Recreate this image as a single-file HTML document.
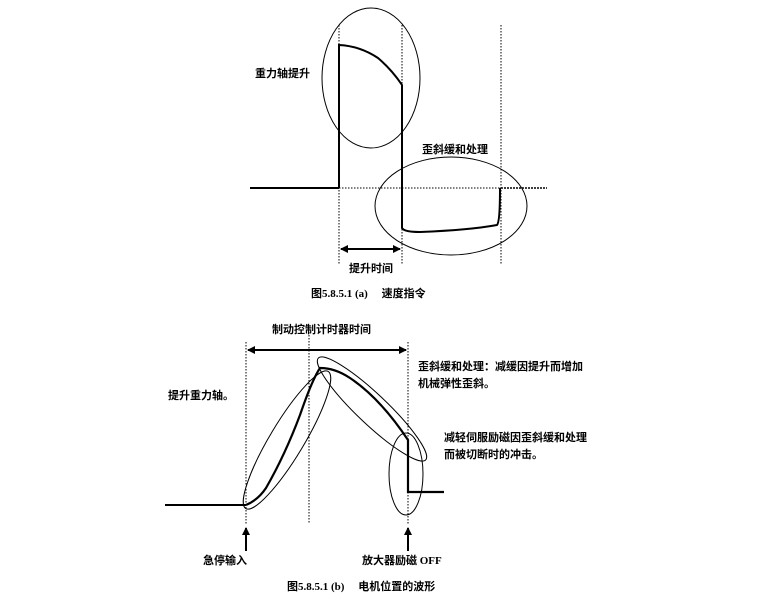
<!DOCTYPE html>
<html><head><meta charset="utf-8"><style>
html,body{margin:0;padding:0;background:#fff;}
svg{display:block}
text{font-family:"Liberation Serif","Noto Sans CJK SC",serif;font-weight:bold;font-size:11px;fill:#000}
.c{font-family:"Liberation Sans","Noto Sans CJK SC",sans-serif;}
</style></head><body>
<svg width="761" height="606" viewBox="0 0 761 606" xmlns="http://www.w3.org/2000/svg">
<defs>
<marker id="ah" markerWidth="8" markerHeight="8" refX="7" refY="4" orient="auto" markerUnits="userSpaceOnUse"><path d="M0,0 L8,4 L0,8 z" fill="#000"/></marker>
<marker id="ahs" markerWidth="8" markerHeight="8" refX="1" refY="4" orient="auto" markerUnits="userSpaceOnUse"><path d="M8,0 L0,4 L8,8 z" fill="#000"/></marker>
</defs>
<g stroke="#000" fill="none">
<g stroke-dasharray="1.5,1.5" stroke-width="1">
<line x1="339" y1="25" x2="339" y2="265"/>
<line x1="402" y1="25" x2="402" y2="265"/>
<line x1="501" y1="25" x2="501" y2="265"/>
<line x1="339" y1="188" x2="501" y2="188"/>
</g>
<line x1="501" y1="188" x2="547" y2="188" stroke-width="1.5" stroke-dasharray="2,1"/>
<line x1="250" y1="188" x2="339" y2="188" stroke-width="2"/>
<path d="M339,188 L339,45 Q360,46 378,58 Q392,70 402,85 L402,228 Q404,232 420,232 Q470,230 497,225 Q500,222 500,188" stroke-width="2"/>
<ellipse cx="371" cy="78" rx="49" ry="70" stroke-width="1"/>
<ellipse cx="451" cy="206" rx="76" ry="49" stroke-width="1"/>
<line x1="341" y1="249" x2="400" y2="249" stroke-width="2" marker-end="url(#ah)" marker-start="url(#ahs)"/>
<g stroke-dasharray="1.5,1.5" stroke-width="1">
<line x1="246" y1="342" x2="246" y2="525"/>
<line x1="309" y1="335" x2="309" y2="523"/>
<line x1="408" y1="342" x2="408" y2="525"/>
</g>
<line x1="248" y1="350" x2="406" y2="350" stroke-width="2" marker-end="url(#ah)" marker-start="url(#ahs)"/>
<line x1="165" y1="505" x2="246" y2="505" stroke-width="2"/>
<path d="M246,505 Q258,500 266,488 Q285,455 300,415 Q312,380 320,368 Q335,368 350,378 Q380,398 408,440 L408,492 L444,492" stroke-width="2.2"/>
<ellipse cx="0" cy="0" rx="80" ry="17" transform="translate(287,440) rotate(-59)" stroke-width="1"/>
<ellipse cx="0" cy="0" rx="74" ry="15" transform="translate(372,409) rotate(43.5)" stroke-width="1"/>
<ellipse cx="406" cy="474" rx="17" ry="41" stroke-width="1"/>
<line x1="246" y1="551" x2="246" y2="528" stroke-width="2" marker-end="url(#ah)"/>
<line x1="408" y1="551" x2="408" y2="528" stroke-width="2" marker-end="url(#ah)"/>
</g>
<text x="255" y="77" class="c">重力轴提升</text>
<text x="422" y="153" class="c">歪斜缓和处理</text>
<text x="349" y="272" class="c">提升时间</text>
<text x="311" y="297" font-size="13">图5.8.5.1 (a)　 速度指令</text>
<text x="272" y="333" class="c">制动控制计时器时间</text>
<text x="418" y="370" class="c">歪斜缓和处理：减缓因提升而增加</text>
<text x="418" y="387" class="c">机械弹性歪斜。</text>
<text x="168" y="399" class="c">提升重力轴。</text>
<text x="444" y="441" class="c">减轻伺服励磁因歪斜缓和处理</text>
<text x="444" y="458" class="c">而被切断时的冲击。</text>
<text x="203" y="564" class="c">急停输入</text>
<text x="362" y="564">放大器励磁 OFF</text>
<text x="287" y="590" font-size="13">图5.8.5.1 (b)　 电机位置的波形</text>
</svg>
</body></html>
